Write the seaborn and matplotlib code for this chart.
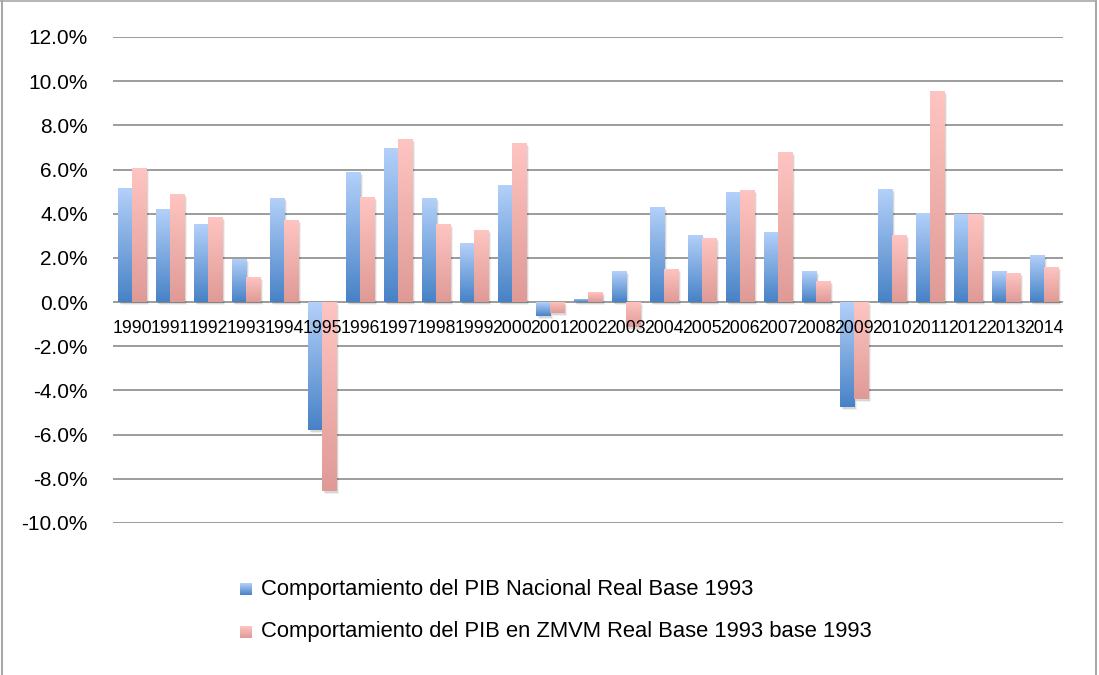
import numpy as np
import pandas as pd
import matplotlib
matplotlib.use("Agg")
import matplotlib.pyplot as plt
import seaborn as sns
from matplotlib import font_manager
from matplotlib.patches import Rectangle
from matplotlib.colors import to_rgb
import matplotlib.transforms as mtransforms

# ---------------- data ----------------
years = ["1990", "1991", "1992", "1993", "1994", "1995", "1996", "1997", "1998",
         "1999", "2000", "2001", "2002", "2003", "2004", "2005", "2006", "2007",
         "2008", "2009", "2010", "2011", "2012", "2013", "2014"]
nacional = [5.17, 4.21, 3.53, 1.95, 4.71, -5.80, 5.89, 6.98, 4.71, 2.67, 5.30, -0.62,
            0.14, 1.40, 4.31, 3.04, 4.98, 3.17, 1.40, -4.76, 5.12, 4.03, 3.99, 1.40, 2.13]
zmvm = [6.07, 4.89, 3.85, 1.13, 3.72, -8.56, 4.76, 7.39, 3.53, 3.26, 7.21, -0.50,
        0.45, -1.15, 1.50, 2.90, 5.08, 6.80, 0.95, -4.38, 3.04, 9.56, 3.99, 1.31, 1.59]
series_names = ["Comportamiento del PIB Nacional Real Base 1993",
                "Comportamiento del PIB en ZMVM Real Base 1993 base 1993"]
y_ticks = [-10, -8, -6, -4, -2, 0, 2, 4, 6, 8, 10, 12]

# ---------------- style ----------------
sns.set_theme(style="white")
plt.rcParams["font.family"] = ["Liberation Sans", "DejaVu Sans"]
installed = {f.name for f in font_manager.fontManager.ttflist}
narrow_ok = "Liberation Sans Narrow" in installed
year_family = ["Liberation Sans Narrow", "Liberation Sans"] if narrow_ok else ["Liberation Sans"]
year_size = 14.5 if narrow_ok else 12.7

blue_top, blue_bot = "#b4d1fa", "#4782c6"
pink_top, pink_bot = "#ffc5c2", "#df9a96"
blue_mid, pink_mid = "#7da9e0", "#efb0ac"

W, H = 1099, 675
fig = plt.figure(figsize=(W / 100, H / 100), dpi=100)
fig.patch.set_facecolor("white")
ax = fig.add_axes([113 / W, 1 - 523 / H, 950 / W, 486 / H])

df = pd.DataFrame({
    "year": years * 2,
    "value": nacional + zmvm,
    "serie": [series_names[0]] * len(years) + [series_names[1]] * len(years),
})
sns.barplot(data=df, x="year", y="value", hue="serie", order=years,
            hue_order=series_names, palette=[blue_mid, pink_mid], width=0.74,
            saturation=1, legend=False, errorbar=None, ax=ax)


def gradient(c_top, c_bot, n=256):
    t = np.linspace(0, 1, n)[:, None]
    a = np.array(to_rgb(c_top))[None, :]
    b = np.array(to_rgb(c_bot))[None, :]
    return (a * (1 - t) + b * t)[:, None, :]


grad_blue = gradient(blue_top, blue_bot)
grad_pink = gradient(pink_top, pink_bot)

for p in list(ax.patches):
    x0, w = p.get_x(), p.get_width()
    y0, h = p.get_y(), p.get_height()
    lo, hi = min(y0, y0 + h), max(y0, y0 + h)
    fc = np.array(p.get_facecolor()[:3])
    is_blue = np.linalg.norm(fc - np.array(to_rgb(blue_mid))) < np.linalg.norm(fc - np.array(to_rgb(pink_mid)))
    g = grad_blue if is_blue else grad_pink
    # soft shadow
    for k, al in [(0, 0.10), (1, 0.06)]:
        sh = Rectangle((x0, lo), w, hi - lo, transform=mtransforms.offset_copy(
            ax.transData, fig=fig, x=2 + k, y=-2 - k, units="dots"),
            facecolor="black", alpha=al, edgecolor="none", zorder=1.5)
        ax.add_patch(sh)
    im = ax.imshow(g, extent=(x0, x0 + w, lo, hi), origin="upper",
                   aspect="auto", zorder=2, interpolation="bilinear")
    im.set_clip_path(p)
    p.set_facecolor("none")
    p.set_edgecolor("none")
    p.set_zorder(2.1)

ax.set_xlim(-0.5, len(years) - 0.5)
ax.set_ylim(-10, 12)
ax.set_yticks(y_ticks)
ax.set_yticklabels([f"{v:.1f}%" for v in y_ticks], fontsize=15, color="black")
ax.set_xticks(range(len(years)))
ax.set_xticklabels([])
ax.tick_params(axis="both", length=0)
ax.tick_params(axis="y", pad=18)
ax.set_xlabel("")
ax.set_ylabel("")
ax.set_axisbelow(True)
ax.yaxis.grid(True, color="#9c9c9c", linewidth=1.4)
ax.xaxis.grid(False)
for s in ax.spines.values():
    s.set_visible(False)
ax.set_facecolor("none")

for i, yr in enumerate(years):
    ax.annotate(yr, xy=(i, 0), xytext=(0, -26), textcoords="offset pixels",
                ha="center", va="center", fontsize=year_size,
                family=year_family, color="black", zorder=5)

# ---------------- overlay: legend and frame ----------------
ov = fig.add_axes([0, 0, 1, 1], zorder=-1)
ov.set_xlim(0, W)
ov.set_ylim(H, 0)
ov.axis("off")
for yc, g, name in [(589, grad_blue, series_names[0]), (632, grad_pink, series_names[1])]:
    ov.imshow(g, extent=(240, 252, yc + 6, yc - 6), origin="upper", aspect="auto",
              interpolation="bilinear")
    ov.text(261, yc, name, fontsize=15.8, va="center", ha="left", color="black")
ov.plot([1.5, 1.5], [0, H], color="#a8a8a8", lw=1.5)
ov.plot([1095.5, 1095.5], [0, H], color="#a8a8a8", lw=1.5)
ov.plot([0, 1096], [0.8, 0.8], color="#a8a8a8", lw=1.2)
ov.set_xlim(0, W)
ov.set_ylim(H, 0)

fig.savefig("out.png", dpi=100, facecolor="white")
